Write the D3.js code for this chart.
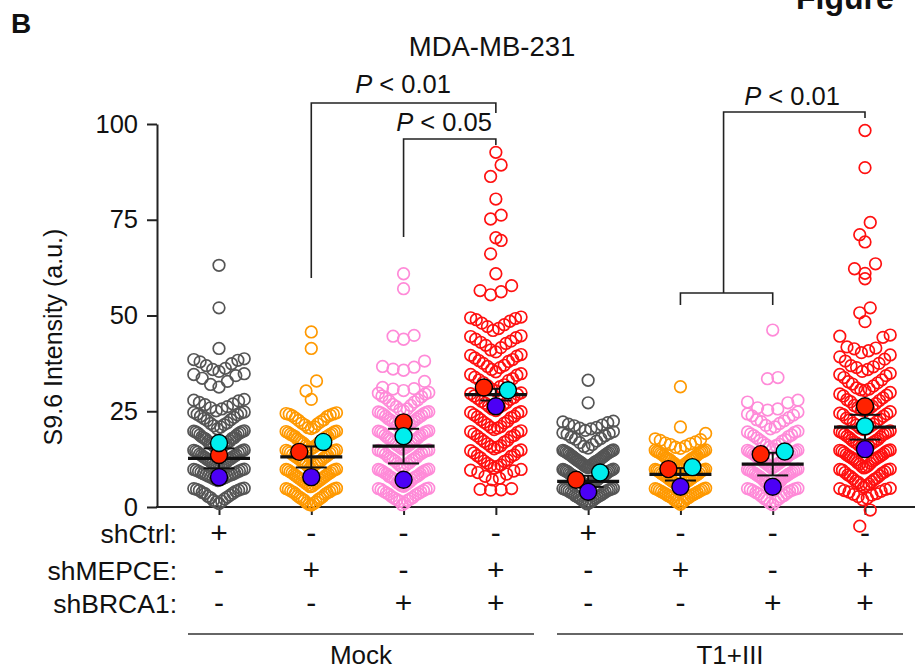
<!DOCTYPE html>
<html>
<head>
<meta charset="utf-8">
<script src="https://cdn.jsdelivr.net/npm/d3@7"></script>
<style>
  body { margin: 0; background: #fff; }
  text { font-family: "Liberation Sans", Arial, sans-serif; fill: #111; }
</style>
</head>
<body>
<div class="canvas"></div>
<script>
// ---- data ----
const groups = ["M1", "M2", "M3", "M4", "T1", "T2", "T3", "T4"];
const groupColors = ["#555555", "#ff9900", "#ff8ad8", "#ff1010", "#555555", "#ff9900", "#ff8ad8", "#ff1010"];

const shCtrl  = ["+", "-", "-", "-", "+", "-", "-", "-"];
const shMEPCE = ["-", "+", "-", "+", "-", "+", "-", "+"];
const shBRCA1 = ["-", "-", "+", "+", "-", "-", "+", "+"];

const yTicks = [0, 25, 50, 75, 100];

// replicate means (big dots)
const repRed  = [13.6, 14.4, 22.1, 31.2, 7.1, 9.9, 13.8, 26.3];
const repCyan = [16.7, 17.0, 18.5, 30.5, 9.0, 10.4, 14.5, 21.1];
const repBlue = [7.8, 7.8, 7.1, 26.3, 4.0, 5.3, 5.3, 15.1];
const repColors = ["#ff2200", "#00eeee", "#4c00f5"];

// single cells
const mockCtrl = [63.1, 52.0, 41.4,
 38.7, 38.3, 37.9, 37.4, 36.9, 36.2, 38.5, 35.9, 35.4,
 34.8, 34.3, 33.6, 32.8, 32.0, 31.3, 34.6,
 28.1, 27.7, 27.3, 26.7, 26.2, 25.6, 25.1, 27.9, 26.9, 25.9,
 24.8, 24.5, 24.1, 23.7, 23.1, 22.6, 22.0, 21.5, 20.9, 20.4, 24.7, 24.2, 23.4, 22.8, 21.8, 21.2,
 19.9, 19.6, 19.3, 19.1, 18.8, 18.3, 18.0, 17.7, 17.3, 16.9, 16.5, 16.2, 15.8, 15.5, 15.2, 19.8, 19.4, 18.6, 17.9, 17.1, 16.4, 15.9, 15.3, 19.7, 18.1, 16.7,
 14.9, 14.6, 14.4, 14.1, 13.8, 13.5, 13.1, 12.8, 12.4, 12.1, 11.7, 11.4, 11.0, 10.7, 10.3, 14.8, 14.3, 13.6, 13.0, 12.3, 11.6, 10.9, 10.5, 14.7, 12.6, 13.3, 11.8,
 9.9, 9.6, 9.3, 9.0, 8.7, 8.3, 8.0, 7.7, 7.4, 7.1, 6.9, 9.8, 9.4, 8.8, 8.1, 7.5, 9.7, 8.5, 9.1, 8.4, 7.8, 7.2,
 4.9, 4.6, 4.4, 4.1, 3.8, 3.5, 3.1, 2.8, 2.4, 2.1, 1.7, 1.3, 0.9, 4.8, 4.3, 3.6, 2.6, 1.5, 4.7];

const mockMepce = [45.7, 41.4, 32.9, 30.3, 28.1,
 24.6, 24.3, 24.0, 23.6, 23.2, 22.8, 22.3, 21.9, 21.4, 20.9, 20.5, 24.4, 23.8, 22.6, 21.7, 20.7, 24.2,
 19.8, 19.6, 19.2, 18.9, 18.5, 18.2, 17.8, 17.4, 17.0, 16.6, 16.2, 15.8, 15.4, 15.1, 19.7, 19.0, 18.4, 17.6, 16.8, 16.0, 15.6, 19.4, 18.7, 17.2,
 14.9, 14.7, 14.3, 14.0, 13.7, 13.3, 12.9, 12.5, 12.1, 11.8, 11.4, 11.0, 10.6, 10.2, 14.8, 14.2, 13.5, 12.7, 12.0, 11.2, 10.5, 14.5, 13.1, 11.6,
 9.9, 9.6, 9.2, 8.9, 8.5, 8.1, 7.7, 7.3, 6.9, 6.5, 6.1, 5.7, 5.3, 9.8, 9.4, 8.7, 7.9, 7.1, 6.3, 5.5, 9.7, 8.3, 9.0, 7.5, 6.7, 5.9,
 4.9, 4.7, 4.4, 4.0, 3.7, 3.3, 2.9, 2.5, 2.1, 1.7, 1.3, 0.9, 0.5, 4.8, 4.2, 3.5, 2.7, 1.9, 1.1, 4.6, 3.9, 2.3, 0.7];

const mockBrca = [60.9, 57.0, 44.8, 44.6, 43.8, 38.1, 36.7, 36.5, 36.0, 35.7, 32.8,
 31.2, 30.8, 30.4, 29.9, 29.5, 29.0, 28.5, 28.0, 27.4, 26.8, 26.2, 25.6, 25.1, 30.9, 29.7, 28.8, 27.7, 26.5, 25.4,
 24.9, 24.6, 24.2, 23.9, 23.5, 23.1, 22.7, 22.3, 21.9, 21.5, 21.1, 20.7, 20.3, 24.8, 24.4, 23.7, 23.0, 22.1, 21.3, 20.5, 24.7, 22.5,
 19.9, 19.6, 19.3, 18.9, 18.6, 18.2, 17.8, 17.4, 17.0, 16.6, 16.2, 15.8, 15.4, 15.1, 19.8, 19.4, 18.7, 18.0, 17.2, 16.4, 15.6, 19.7, 17.6, 16.0,
 14.9, 14.6, 14.3, 14.0, 13.6, 13.2, 12.8, 12.4, 12.0, 11.6, 11.2, 10.8, 10.4, 14.8, 14.4, 13.8, 13.0, 12.2, 11.4, 10.6, 14.7, 12.6,
 9.9, 9.6, 9.3, 8.9, 8.6, 8.2, 7.8, 7.4, 7.0, 6.6, 6.2, 5.8, 5.4, 9.8, 9.4, 8.7, 7.9, 7.1, 6.4, 5.6, 9.7, 8.0, 9.1, 7.6, 6.0,
 4.9, 4.6, 4.3, 3.9, 3.5, 3.1, 2.7, 2.3, 1.9, 1.5, 1.0, 0.6, 4.8, 4.1, 3.3, 2.5, 1.7, 4.7, 3.7, 2.1];

const mockBoth = [92.6, 89.3, 86.3, 80.4, 76.2, 75.2, 70.3, 69.6, 66.1, 60.9, 57.8, 56.5, 56.2, 55.4,
 49.6, 49.2, 48.9, 48.5, 48.0, 47.6, 47.1, 46.6, 46.1, 49.4,
 44.7, 44.2, 43.8, 43.3, 42.7, 42.2, 41.6, 41.0, 40.5, 44.5, 43.0,
 39.8, 39.4, 38.9, 38.5, 38.0, 37.5, 37.0, 36.4, 35.9, 35.3, 39.6, 38.2, 36.7,
 34.8, 34.4, 33.9, 33.5, 33.0, 32.5, 31.9, 31.4, 30.8, 30.3, 34.6, 33.2, 31.7,
 29.8, 29.4, 29.0, 28.6, 28.1, 27.6, 27.1, 26.6, 26.1, 25.6, 25.2, 29.6, 28.3, 27.3, 26.3,
 24.9, 24.5, 24.1, 23.7, 23.3, 22.8, 22.4, 21.9, 21.5, 21.0, 20.6, 20.2, 24.7, 23.5, 22.1, 20.8,
 19.9, 19.5, 19.1, 18.7, 18.3, 17.8, 17.4, 16.9, 16.5, 16.0, 15.6, 15.2, 19.7, 18.5, 17.1, 15.8,
 14.9, 14.5, 14.1, 13.6, 13.2, 12.8, 12.3, 11.9, 11.4, 11.0, 10.6, 10.2, 14.7, 13.4, 12.0, 10.8,
 9.8, 9.4, 9.0, 8.6, 8.0, 7.5, 7.1, 9.6,
 4.8, 4.6, 4.5, 4.4];

const t1Ctrl = [33.1, 27.2,
 22.4, 22.0, 21.6, 21.2, 20.8, 20.4, 20.0, 22.2, 21.4, 20.6,
 19.7, 19.4, 19.0, 18.6, 18.2, 17.7, 17.2, 16.8, 16.3, 15.8, 15.4, 19.2, 17.9,
 14.9, 14.7, 14.4, 14.2, 13.9, 13.6, 13.3, 13.0, 12.7, 12.4, 12.1, 11.8, 11.5, 11.2, 10.9, 10.6, 10.3, 14.8, 14.5, 14.0, 13.4, 12.8, 12.2, 11.6, 11.0, 10.4, 14.6, 13.1, 11.9, 13.7, 12.5, 11.3, 10.7, 14.1, 12.0,
 9.9, 9.7, 9.4, 9.2, 8.9, 8.6, 8.3, 8.0, 7.7, 7.4, 7.1, 6.8, 6.5, 6.2, 5.9, 5.6, 5.3, 9.8, 9.5, 9.0, 8.4, 7.8, 7.2, 6.6, 6.0, 5.4, 9.6, 8.1, 6.9, 9.3, 8.7, 7.5, 6.3, 5.7, 8.2,
 4.9, 4.7, 4.4, 4.1, 3.8, 3.5, 3.2, 2.9, 2.6, 2.3, 2.0, 1.7, 1.4, 1.1, 0.8, 4.8, 4.3, 3.6, 3.0, 2.4, 1.8, 4.6, 4.5, 3.9, 2.7, 1.2];

const t1Mepce = [31.4, 20.9, 19.2,
 17.8, 17.4, 17.0, 16.7, 16.3, 15.9, 15.6, 15.3, 17.6, 16.5,
 14.9, 14.6, 14.3, 14.0, 13.7, 13.4, 13.1, 12.8, 12.4, 12.1, 11.8, 11.4, 11.1, 10.8, 10.5, 10.2, 14.8, 14.2, 13.5, 12.9, 12.2, 11.6, 10.9, 14.5, 12.6, 13.9, 12.7, 11.5, 10.6, 14.4,
 9.9, 9.6, 9.3, 9.0, 8.7, 8.4, 8.1, 7.8, 7.4, 7.1, 6.8, 6.5, 6.2, 5.8, 5.5, 5.2, 9.8, 9.4, 8.8, 8.2, 7.6, 7.0, 6.4, 5.7, 9.7, 8.5, 9.5, 8.0, 6.7, 5.4, 7.3,
 4.9, 4.7, 4.4, 4.1, 3.8, 3.5, 3.2, 2.9, 2.5, 2.2, 1.9, 1.5, 1.1, 0.7, 4.8, 4.3, 3.7, 3.0, 2.4, 1.7, 4.6, 4.0, 2.7, 1.3, 3.4];

const t1Brca = [46.2, 33.8, 33.5, 27.9, 27.4, 27.2,
 25.9, 25.3, 24.8, 24.3, 23.8, 23.3, 22.8, 22.3, 21.8, 21.3, 25.6, 24.0, 22.5, 20.9, 20.4,
 19.8, 19.5, 19.1, 18.8, 18.4, 18.0, 17.6, 17.2, 16.8, 16.4, 16.0, 15.6, 15.2, 19.6, 18.6, 17.4, 16.2,
 14.9, 14.6, 14.3, 14.0, 13.7, 13.3, 13.0, 12.6, 12.2, 11.8, 11.4, 11.0, 10.6, 10.2, 14.8, 14.2, 13.5, 12.8, 12.0, 11.2, 10.4, 14.5, 13.8, 12.4, 11.6, 10.8,
 9.9, 9.6, 9.3, 9.0, 8.7, 8.3, 8.0, 7.6, 7.2, 6.8, 6.4, 6.0, 5.6, 5.2, 9.8, 9.4, 8.8, 8.1, 7.4, 6.6, 5.8, 9.7, 8.5, 9.1, 7.8, 6.2, 5.4,
 4.9, 4.7, 4.4, 4.1, 3.8, 3.4, 3.0, 2.6, 2.2, 1.8, 1.4, 1.0, 0.6, 4.8, 4.2, 3.6, 2.8, 2.0, 4.6];

const t1Both = [98.3, 88.6, 74.3, 71.1, 69.2, 63.5, 62.2, 61.0, 59.6, 52.0, 50.7, 48.4, 44.9, 44.6, 44.3,
 41.8, 41.3, 40.8, 40.3, 39.7, 39.2, 38.6, 38.1, 37.5, 41.5,
 36.9, 36.4, 35.9, 35.4, 34.9, 34.3, 33.8, 33.2, 32.7, 32.1, 31.6, 31.1, 36.6, 34.6, 32.4,
 30.8, 30.4, 29.9, 29.5, 29.0, 28.5, 28.0, 27.5, 27.0, 26.5, 26.0, 25.6, 30.6, 29.2, 27.8, 26.3,
 25.3, 24.9, 24.5, 24.1, 23.7, 23.2, 22.8, 22.3, 21.9, 21.4, 21.0, 20.6, 20.2, 25.1, 24.3, 23.0, 21.6, 20.4,
 19.9, 19.6, 19.2, 18.9, 18.5, 18.1, 17.7, 17.3, 16.9, 16.5, 16.1, 15.7, 15.3, 19.7, 19.0, 18.3, 17.5, 16.7, 15.9, 15.1, 19.4, 17.0,
 14.9, 14.6, 14.2, 13.9, 13.5, 13.1, 12.8, 12.4, 12.0, 11.6, 11.2, 10.8, 10.4, 14.8, 14.4, 13.7, 13.0, 12.2, 11.4, 10.6, 14.7, 12.6, 10.2, 13.3,
 9.9, 9.6, 9.2, 8.8, 8.4, 8.0, 7.6, 7.2, 6.8, 6.4, 6.0, 5.6, 5.2, 9.8, 9.0, 8.2, 7.4, 6.6, 5.8, 9.7,
 4.9, 4.6, 4.3, 3.9, 3.5, 3.1, 2.7, 2.3, 1.9, 4.8, 4.1, 3.3,
 -0.8, -5.0];

const cellValues = [mockCtrl, mockMepce, mockBrca, mockBoth, t1Ctrl, t1Mepce, t1Brca, t1Both];

// ---- layout ----
const W = 915, H = 670;
const svg = d3.select(".canvas").append("svg").attr("width", W).attr("height", H);

const x = d3.scalePoint().domain(groups).range([219, 865]);
const y = d3.scaleLinear().domain([0, 100]).range([507, 124]);

const binW = 5;        // value units per swarm row
const halfW = 25.2;    // max center offset
const maxStep = 10.5;
const ptR = 5.8;

function swarm(vals) {
    const out = [];
    const bins = d3.group(vals, v => Math.floor(v / binW));
    for (const [, arr] of bins) {
        const s = arr.slice().sort((a, b) => a - b);
        const n = s.length;
        const step = n > 1 ? Math.min(maxStep, 2 * halfW / (n - 1)) : 0;
        const slots = d3.range(n).map(i => (i - (n - 1) / 2) * step)
            .sort((a, b) => Math.abs(a) - Math.abs(b) || a - b);
        s.forEach((v, i) => out.push({ v: v, dx: slots[i] }));
    }
    return out;
}

// header texts
svg.append("text").attr("x", 11).attr("y", 33).text("B")
    .attr("font-size", "28px").attr("font-weight", "bold");
svg.append("text").attr("x", 796).attr("y", 9).text("Figure")
    .attr("font-size", "32px").attr("font-weight", "bold");
svg.append("text").attr("x", 492).attr("y", 56).attr("text-anchor", "middle")
    .attr("font-size", "27.5px").text("MDA-MB-231");

// y axis
const yAxis = svg.append("g").attr("transform", "translate(157,0)")
    .call(d3.axisLeft(y).tickValues(yTicks).tickSize(10).tickSizeOuter(0).tickPadding(9));
yAxis.select(".domain").attr("stroke", "#222").attr("stroke-width", 2);
yAxis.selectAll(".tick line").attr("stroke", "#222").attr("stroke-width", 2);
yAxis.selectAll(".tick text").attr("font-size", "25.5px")
    .attr("font-family", "Liberation Sans, Arial, sans-serif").attr("fill", "#111");

svg.append("text")
    .attr("transform", "translate(62,337) rotate(-90)")
    .attr("text-anchor", "middle").attr("font-size", "25px")
    .text("S9.6 Intensity (a.u.)");

// x axis
svg.append("line").attr("x1", 156).attr("x2", W).attr("y1", y(0)).attr("y2", y(0))
    .attr("stroke", "#222").attr("stroke-width", 2);
const xAxis = svg.append("g").attr("transform", `translate(0,${y(0)})`)
    .call(d3.axisBottom(x).tickSize(8).tickFormat(""));
xAxis.select(".domain").remove();
xAxis.selectAll(".tick line").attr("stroke", "#222").attr("stroke-width", 2);

// single cells
const cells = svg.append("g");
cellValues.forEach((vals, gi) => {
    cells.append("g").selectAll("circle")
        .data(swarm(vals))
        .join("circle")
        .attr("cx", d => x(groups[gi]) + d.dx)
        .attr("cy", d => y(d.v))
        .attr("r", ptR)
        .attr("fill", "none")
        .attr("stroke", groupColors[gi])
        .attr("stroke-width", 1.7);
});

// mean +/- SEM of replicate means
const stats = groups.map((g, i) => {
    const r = [repRed[i], repCyan[i], repBlue[i]];
    const m = d3.mean(r);
    const sem = d3.deviation(r) / Math.sqrt(r.length);
    return { g: g, m: m, sem: sem };
});
const sumG = svg.append("g").attr("stroke", "#111");
stats.forEach(s => {
    const cx = x(s.g);
    sumG.append("line").attr("x1", cx).attr("x2", cx)
        .attr("y1", y(s.m - s.sem)).attr("y2", y(s.m + s.sem)).attr("stroke-width", 2);
    [s.m - s.sem, s.m + s.sem].forEach(v => {
        sumG.append("line").attr("x1", cx - 15.5).attr("x2", cx + 15.5)
            .attr("y1", y(v)).attr("y2", y(v)).attr("stroke-width", 2);
    });
    sumG.append("line").attr("x1", cx - 31).attr("x2", cx + 31)
        .attr("y1", y(s.m)).attr("y2", y(s.m)).attr("stroke-width", 3.2);
});

// replicate dots (side by side when nearly level)
const reps = [];
groups.forEach((g, i) => {
    const pts = [repRed[i], repCyan[i], repBlue[i]].map((v, k) => ({ g: g, v: v, k: k, dx: 0 }));
    const sorted = pts.slice().sort((a, b) => a.v - b.v);
    let cluster = [sorted[0]];
    const flush = () => {
        cluster.sort((a, b) => a.k - b.k);
        cluster.forEach((p, j) => { p.dx = (j - (cluster.length - 1) / 2) * 24; });
    };
    for (let j = 1; j < sorted.length; j++) {
        if (y(sorted[j - 1].v) - y(sorted[j].v) < 11) cluster.push(sorted[j]);
        else { flush(); cluster = [sorted[j]]; }
    }
    flush();
    reps.push(...pts);
});
svg.append("g").selectAll("circle")
    .data(reps.sort((a, b) => a.k - b.k))
    .join("circle")
    .attr("cx", d => x(d.g) + d.dx)
    .attr("cy", d => y(d.v))
    .attr("r", 8.5)
    .attr("fill", d => repColors[d.k])
    .attr("stroke", "#000")
    .attr("stroke-width", 1.4);

// significance brackets
const br = svg.append("g").attr("fill", "none").attr("stroke", "#222").attr("stroke-width", 1.6);
br.append("path").attr("d", `M${x("M2")},278 V103 H${x("M4")} V113`);
br.append("path").attr("d", `M${x("M3")},237 V139 H${x("M4")} V145`);
const stem = (x("T2") + x("T3")) / 2 - 3;
br.append("path").attr("d", `M${x("T2")},305 V293 H${x("T3")} V305`);
br.append("path").attr("d", `M${stem},293 V112 H${x("T4")} V118`);

function pLabel(cx, by, val) {
    const t = svg.append("text").attr("x", cx).attr("y", by)
        .attr("text-anchor", "middle").attr("font-size", "25.5px");
    t.append("tspan").attr("font-style", "italic").text("P");
    t.append("tspan").text(" < " + val);
}
pLabel(403, 93, "0.01");
pLabel(444, 131, "0.05");
pLabel(792, 105, "0.01");

// condition table
const rows = [["shCtrl:", shCtrl, 543], ["shMEPCE:", shMEPCE, 580], ["shBRCA1:", shBRCA1, 613]];
rows.forEach(([lab, arr, by]) => {
    svg.append("text").attr("x", 177).attr("y", by).attr("text-anchor", "end")
        .attr("font-size", "26.5px").text(lab);
    svg.append("g").selectAll("text").data(arr).join("text")
        .attr("x", (d, i) => x(groups[i]))
        .attr("y", by)
        .attr("text-anchor", "middle")
        .attr("font-size", "30px")
        .text(d => d);
});

// treatment groups
const treat = [["Mock", 188, 534], ["T1+III", 557, 903]];
treat.forEach(([lab, a, b]) => {
    svg.append("line").attr("x1", a).attr("x2", b).attr("y1", 634).attr("y2", 634)
        .attr("stroke", "#333").attr("stroke-width", 1.5);
    svg.append("text").attr("x", (a + b) / 2).attr("y", 664).attr("text-anchor", "middle")
        .attr("font-size", "26px").text(lab);
});
</script>
</body>
</html>
